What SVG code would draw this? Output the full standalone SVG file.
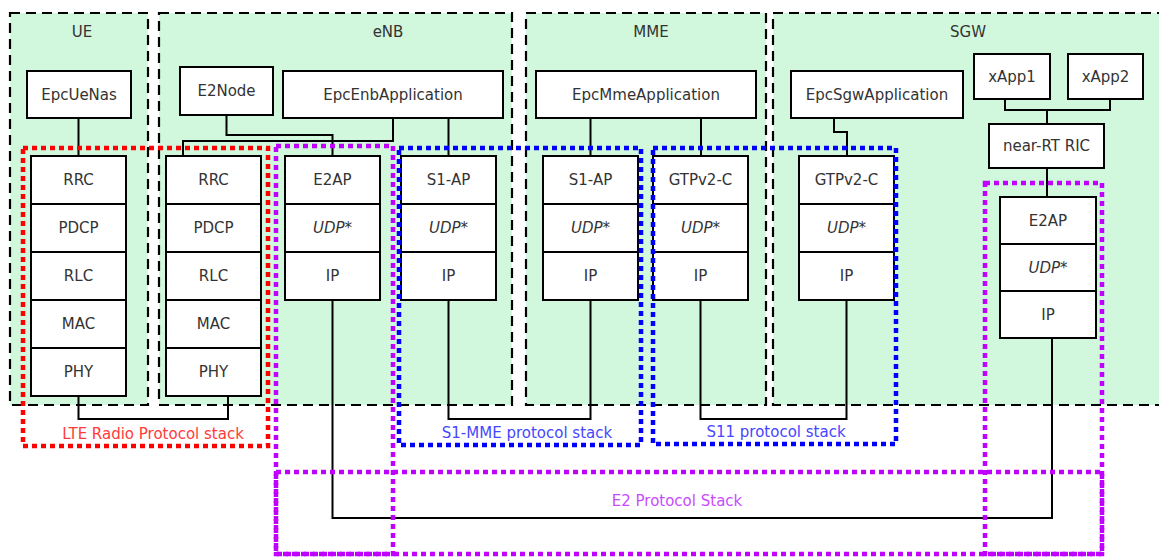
<svg xmlns="http://www.w3.org/2000/svg" width="1159" height="557" viewBox="0 0 1159 557">
<style>
.cont{fill:#d1f7dd;stroke:#000;stroke-width:2.2;stroke-dasharray:10 6}
.box{fill:#fff;stroke:#000;stroke-width:2}
.ln{fill:none;stroke:#000;stroke-width:2}
.t{font-family:"DejaVu Sans",sans-serif;font-size:15px;fill:#333;text-anchor:middle}
.i{font-style:italic}
.dot{fill:none;stroke-width:4.5;stroke-dasharray:5 4}
.red{stroke:#ff0000}
.blue{stroke:#0000ff}
.pur{stroke:#bf00ff}
</style>
<rect width="1159" height="557" fill="#fff"/>
<g id="containers">
<g id="UE"><rect class="cont" x="10" y="13" width="138" height="392"/><text class="t" x="82" y="37">UE</text></g>
<g id="eNB"><rect class="cont" x="159" y="13" width="353" height="392"/><text class="t" x="388" y="37">eNB</text></g>
<g id="MME"><rect class="cont" x="526" y="13" width="240" height="392"/><text class="t" x="651" y="37">MME</text></g>
<g id="SGW"><rect class="cont" x="773" y="13" width="400" height="392"/><text class="t" x="968" y="37">SGW</text></g>
</g>
<g id="connectors">
<path class="ln" d="M78.5 118V156"/>
<path class="ln" d="M226.5 115V135H332.5V156"/>
<path class="ln" d="M393 118V141H183V156"/>
<path class="ln" d="M448.5 118V156"/>
<path class="ln" d="M590.5 118V156"/>
<path class="ln" d="M701 118V156"/>
<path class="ln" d="M834 118V132H847V156"/>
<path class="ln" d="M1005 99V110H1110V99"/>
<path class="ln" d="M1047 110V124"/>
<path class="ln" d="M1047 168V197"/>
<path class="ln" d="M78.5 396V419H228V396"/>
<path class="ln" d="M332.5 300V518H1052V338"/>
<path class="ln" d="M448.5 300V419H590.5V300"/>
<path class="ln" d="M700.5 300V419H846.5V300"/>
</g>
<g id="EpcUeNas"><rect class="box" x="27" y="71" width="104" height="47"/><text class="t" x="79" y="100">EpcUeNas</text></g>
<g id="E2Node"><rect class="box" x="180" y="67" width="93" height="48"/><text class="t" x="226.5" y="96">E2Node</text></g>
<g id="EpcEnbApplication"><rect class="box" x="283" y="71" width="220" height="47"/><text class="t" x="393" y="100">EpcEnbApplication</text></g>
<g id="EpcMmeApplication"><rect class="box" x="536" y="71" width="220" height="47"/><text class="t" x="646" y="100">EpcMmeApplication</text></g>
<g id="EpcSgwApplication"><rect class="box" x="791" y="71" width="172" height="47"/><text class="t" x="877" y="100">EpcSgwApplication</text></g>
<g id="xApp1"><rect class="box" x="974" y="54" width="76" height="45"/><text class="t" x="1012" y="82">xApp1</text></g>
<g id="xApp2"><rect class="box" x="1068" y="54" width="75" height="45"/><text class="t" x="1105.5" y="82">xApp2</text></g>
<g id="nearRTRIC"><rect class="box" x="989" y="124" width="115" height="44"/><text class="t" x="1046.5" y="151">near-RT RIC</text></g>
<g id="UEStack">
<rect class="box" x="31" y="156" width="95" height="48"/><text class="t" x="78.5" y="185">RRC</text>
<rect class="box" x="31" y="204" width="95" height="48"/><text class="t" x="78.5" y="233">PDCP</text>
<rect class="box" x="31" y="252" width="95" height="48"/><text class="t" x="78.5" y="281">RLC</text>
<rect class="box" x="31" y="300" width="95" height="48"/><text class="t" x="78.5" y="329">MAC</text>
<rect class="box" x="31" y="348" width="95" height="48"/><text class="t" x="78.5" y="377">PHY</text>
</g>
<g id="eNBLteStack">
<rect class="box" x="166" y="156" width="95" height="48"/><text class="t" x="213.5" y="185">RRC</text>
<rect class="box" x="166" y="204" width="95" height="48"/><text class="t" x="213.5" y="233">PDCP</text>
<rect class="box" x="166" y="252" width="95" height="48"/><text class="t" x="213.5" y="281">RLC</text>
<rect class="box" x="166" y="300" width="95" height="48"/><text class="t" x="213.5" y="329">MAC</text>
<rect class="box" x="166" y="348" width="95" height="48"/><text class="t" x="213.5" y="377">PHY</text>
</g>
<g id="eNBE2Stack">
<rect class="box" x="285" y="156" width="95" height="48"/><text class="t" x="332.5" y="185">E2AP</text>
<rect class="box" x="285" y="204" width="95" height="48"/><text class="t i" x="332.5" y="233">UDP*</text>
<rect class="box" x="285" y="252" width="95" height="48"/><text class="t" x="332.5" y="281">IP</text>
</g>
<g id="eNBS1Stack">
<rect class="box" x="401" y="156" width="95" height="48"/><text class="t" x="448.5" y="185">S1-AP</text>
<rect class="box" x="401" y="204" width="95" height="48"/><text class="t i" x="448.5" y="233">UDP*</text>
<rect class="box" x="401" y="252" width="95" height="48"/><text class="t" x="448.5" y="281">IP</text>
</g>
<g id="MMES1Stack">
<rect class="box" x="543" y="156" width="95" height="48"/><text class="t" x="590.5" y="185">S1-AP</text>
<rect class="box" x="543" y="204" width="95" height="48"/><text class="t i" x="590.5" y="233">UDP*</text>
<rect class="box" x="543" y="252" width="95" height="48"/><text class="t" x="590.5" y="281">IP</text>
</g>
<g id="MMEGtpStack">
<rect class="box" x="653" y="156" width="95" height="48"/><text class="t" x="700.5" y="185">GTPv2-C</text>
<rect class="box" x="653" y="204" width="95" height="48"/><text class="t i" x="700.5" y="233">UDP*</text>
<rect class="box" x="653" y="252" width="95" height="48"/><text class="t" x="700.5" y="281">IP</text>
</g>
<g id="SGWGtpStack">
<rect class="box" x="799" y="156" width="95" height="48"/><text class="t" x="846.5" y="185">GTPv2-C</text>
<rect class="box" x="799" y="204" width="95" height="48"/><text class="t i" x="846.5" y="233">UDP*</text>
<rect class="box" x="799" y="252" width="95" height="48"/><text class="t" x="846.5" y="281">IP</text>
</g>
<g id="RICE2Stack">
<rect class="box" x="1000" y="197" width="96" height="47"/><text class="t" x="1048" y="226">E2AP</text>
<rect class="box" x="1000" y="244" width="96" height="47"/><text class="t i" x="1048" y="273">UDP*</text>
<rect class="box" x="1000" y="291" width="96" height="47"/><text class="t" x="1048" y="320">IP</text>
</g>
<g id="LTERadioProtocolStack">
<rect class="dot red" x="23" y="148" width="245" height="298"/>
<text class="t" style="fill:#ff3a3a" x="153" y="439">LTE Radio Protocol stack</text>
</g>
<g id="E2ProtocolStack">
<rect class="dot pur" x="276" y="146" width="117" height="408"/>
<rect class="dot pur" x="276" y="472" width="826" height="82"/>
<rect class="dot pur" x="985" y="183" width="117" height="371"/>
<text class="t" style="fill:#c94bff" x="677" y="506">E2 Protocol Stack</text>
</g>
<g id="S1MMEProtocolStack">
<rect class="dot blue" x="399" y="148" width="242" height="297"/>
<text class="t" style="fill:#4646ff" x="527" y="438">S1-MME protocol stack</text>
</g>
<g id="S11ProtocolStack">
<rect class="dot blue" x="653" y="148" width="243" height="296"/>
<text class="t" style="fill:#4646ff" x="776" y="437">S11 protocol stack</text>
</g>
</svg>
